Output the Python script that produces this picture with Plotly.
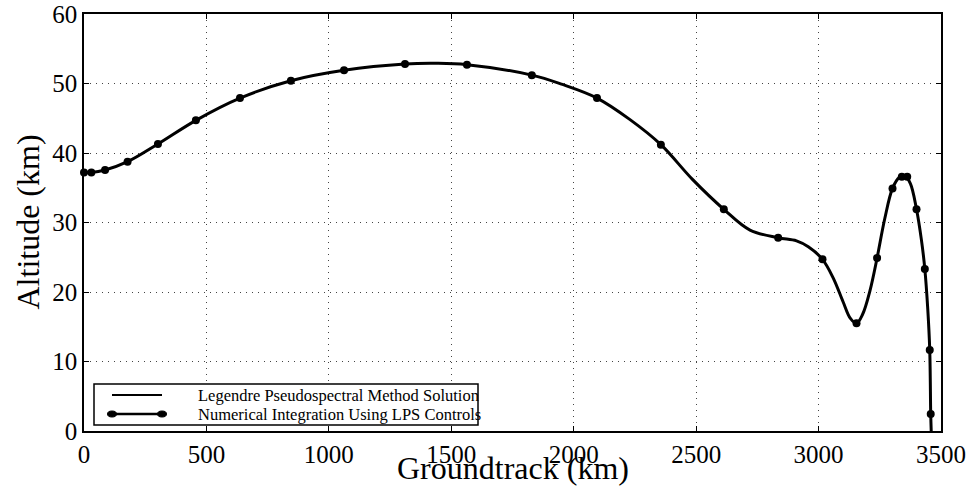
import plotly.graph_objects as go

# Legendre pseudospectral (LPS) solution trajectory: groundtrack (km) vs altitude (km)
lps_groundtrack = [0, 30, 86, 178, 302, 457, 637, 845, 1062, 1311, 1440, 1564, 1829,
                   1950, 2095, 2230, 2356, 2485, 2613, 2720, 2835, 2910, 2958, 3016,
                   3060, 3100, 3130, 3155, 3180, 3210, 3239, 3270, 3302, 3330, 3352,
                   3375, 3400, 3420, 3434, 3446, 3454, 3458, 3460]
lps_altitude = [37.2, 37.2, 37.55, 38.75, 41.3, 44.7, 47.9, 50.4, 51.9, 52.8, 52.9, 52.7,
                51.2, 49.9, 47.9, 44.8, 41.2, 36.2, 31.9, 28.9, 27.8, 27.35, 26.5, 24.7,
                22.0, 18.6, 16.2, 15.5, 16.8, 20.2, 24.9, 30.5, 34.9, 36.5, 36.7,
                35.6, 31.9, 27.5, 23.3, 17.5, 11.65, 2.45, 0.0]

# Numerical integration using the LPS controls (sampled nodes)
num_groundtrack = [0, 30, 86, 178, 302, 457, 637, 845, 1062, 1311, 1564, 1829, 2095,
                   2356, 2613, 2835, 3016, 3155, 3239, 3302, 3340, 3362, 3400, 3434,
                   3454, 3458]
num_altitude = [37.2, 37.2, 37.55, 38.75, 41.3, 44.7, 47.9, 50.4, 51.9, 52.8, 52.7, 51.2,
                47.9, 41.2, 31.9, 27.8, 24.7, 15.5, 24.9, 34.9, 36.6, 36.6, 31.9, 23.3,
                11.65, 2.45]

x_ticks = [0, 500, 1000, 1500, 2000, 2500, 3000, 3500]
y_ticks = [0, 10, 20, 30, 40, 50, 60]

legend_labels = ["Legendre Pseudospectral Method Solution",
                 "Numerical Integration Using LPS Controls"]

FONT = "Liberation Serif"
W, H = 971, 486
L, R, T, B = 84, 30, 14, 55
PW, PH = W - L - R, H - T - B


def px(xp):
    return (xp - L) / PW


def py(yp):
    return (H - B - yp) / PH


fig = go.Figure()
fig.add_trace(go.Scatter(
    x=lps_groundtrack, y=lps_altitude, mode="lines", name=legend_labels[0],
    line=dict(color="black", width=3, shape="spline", smoothing=1.0),
    showlegend=False, cliponaxis=True))
fig.add_trace(go.Scatter(
    x=num_groundtrack, y=num_altitude, mode="markers", name=legend_labels[1],
    marker=dict(color="black", size=8, symbol="circle"),
    showlegend=False, cliponaxis=False))

axis_common = dict(
    showline=True, linecolor="black", linewidth=1.5, mirror="ticks",
    ticks="inside", ticklen=5, tickwidth=1, tickcolor="black",
    showgrid=True, gridcolor="#444", gridwidth=1, griddash="1px,5px",
    zeroline=False, tickfont=dict(family=FONT, size=25, color="black"),
)
fig.update_xaxes(range=[0, 3500], tickvals=x_ticks, ticktext=[str(v) for v in x_ticks],
                 **axis_common)
fig.update_yaxes(range=[0, 60], tickvals=y_ticks, ticktext=[str(v) for v in y_ticks],
                 **axis_common)

# Legend box drawn in paper coordinates
shapes = [dict(type="rect", xref="paper", yref="paper",
               x0=px(94), x1=px(478), y0=py(425), y1=py(384),
               line=dict(color="black", width=1.5), fillcolor="white", layer="above")]
row_y = [395, 414]
shapes.append(dict(type="line", xref="paper", yref="paper", x0=px(112), x1=px(162),
                   y0=py(row_y[0]), y1=py(row_y[0]),
                   line=dict(color="black", width=2), layer="above"))
shapes.append(dict(type="line", xref="paper", yref="paper", x0=px(112), x1=px(162),
                   y0=py(row_y[1]), y1=py(row_y[1]),
                   line=dict(color="black", width=2.5), layer="above"))
for cx in (112, 162):
    shapes.append(dict(type="circle", xref="paper", yref="paper",
                       x0=px(cx - 4.5), x1=px(cx + 4.5), y0=py(row_y[1] + 3), y1=py(row_y[1] - 3),
                       line=dict(color="black", width=1), fillcolor="black", layer="above"))

annotations = []
for label, yy in zip(legend_labels, row_y):
    annotations.append(dict(text=label, xref="paper", yref="paper", x=px(196), y=py(yy),
                            xanchor="left", yanchor="middle", showarrow=False,
                            font=dict(family=FONT, size=16.5, color="black")))
annotations.append(dict(text="Groundtrack (km)", xref="paper", yref="paper",
                        x=0.5, y=py(468), xanchor="center", yanchor="middle",
                        showarrow=False, font=dict(family=FONT, size=32, color="black")))
annotations.append(dict(text="Altitude (km)", xref="paper", yref="paper",
                        x=px(27), y=0.5, xanchor="center", yanchor="middle", textangle=-90,
                        showarrow=False, font=dict(family=FONT, size=32, color="black")))

fig.update_layout(
    width=W, height=H, margin=dict(l=L, r=R, t=T, b=B, autoexpand=False),
    paper_bgcolor="white", plot_bgcolor="white",
    shapes=shapes, annotations=annotations, showlegend=False,
)

fig.write_html("out.html")
